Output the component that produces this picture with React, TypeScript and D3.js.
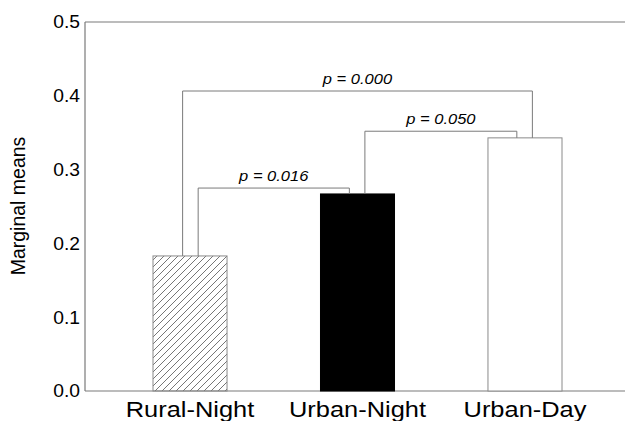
import React from "react";
import * as d3 from "d3";

const categories = ["Rural-Night", "Urban-Night", "Urban-Day"];
const values = [0.183, 0.267, 0.343];
const fills = ["hatch", "black", "white"];
const yTicks = [0.0, 0.1, 0.2, 0.3, 0.4, 0.5];
const comparisons = [
  { from: 0, to: 1, level: 0.275, label: "p = 0.016", fromOff: 0.11, toOff: -0.11 },
  { from: 0, to: 2, level: 0.4065, label: "p = 0.000", fromOff: -0.1, toOff: 0.1 },
  { from: 1, to: 2, level: 0.352, label: "p = 0.050", fromOff: 0.1, toOff: -0.11 },
];

const W = 625;
const H = 421;
const left = 85;
const right = 630;
const top = 22;
const bottom = 391;

export default function App() {
  const x = d3
    .scaleBand<string>()
    .domain(categories)
    .range([left, right])
    .paddingInner(0.558)
    .paddingOuter(0.406);
  const y = d3.scaleLinear().domain([0, 0.5]).range([bottom, top]);
  const bw = x.bandwidth();
  const grey = "#7a7a7a";

  return (
    <svg
      width={W}
      height={H}
      style={{ position: "absolute", left: 0, top: 0, fontFamily: "'Liberation Sans', Arial, sans-serif" }}
    >
      <defs>
        <pattern id="hatch" width="7" height="7" patternUnits="userSpaceOnUse">
          <path d="M-1,8 L8,-1 M-4,4 L4,-4 M3,11 L11,3" stroke="#666" strokeWidth="0.9" />
        </pattern>
      </defs>
      <rect x={0} y={0} width={W} height={H} fill="white" />
      {/* frame */}
      <line x1={left} x2={W} y1={top} y2={top} stroke={grey} strokeWidth={1.2} />
      <line x1={left} x2={W} y1={bottom} y2={bottom} stroke={grey} strokeWidth={1.2} />
      <line x1={left} x2={left} y1={top} y2={bottom} stroke={grey} strokeWidth={1.2} />
      {/* y ticks */}
      {yTicks.map((t) => (
        <text
          key={t}
          transform={`translate(80,${y(t)}) scale(1.1,1)`}
          dy="0.36em"
          textAnchor="end"
          fontSize={17.5}
          fill="#000"
        >
          {d3.format(".1f")(t)}
        </text>
      ))}
      <text
        transform={`translate(25,206) rotate(-90)`}
        textAnchor="middle"
        fontSize={19.5}
        fill="#000"
      >
        Marginal means
      </text>
      {/* bars */}
      {categories.map((c, i) => {
        const f = fills[i];
        return (
          <rect
            key={c}
            x={x(c)}
            y={y(values[i])}
            width={bw}
            height={bottom - y(values[i])}
            fill={f === "hatch" ? "url(#hatch)" : f}
            stroke={f === "black" ? "black" : "#8a8a8a"}
            strokeWidth={1}
          />
        );
      })}
      {/* x labels */}
      {categories.map((c) => (
        <text
          key={c}
          transform={`translate(${(x(c) as number) + bw / 2},416.5) scale(1.13,1)`}
          textAnchor="middle"
          fontSize={22.5}
          fill="#000"
        >
          {c}
        </text>
      ))}
      {/* comparison brackets */}
      {comparisons.map((cmp, k) => {
        const a = categories[cmp.from];
        const b = categories[cmp.to];
        const xa = (x(a) as number) + bw / 2 + cmp.fromOff * bw;
        const xb = (x(b) as number) + bw / 2 + cmp.toOff * bw;
        const ya = y(values[cmp.from]);
        const yb = y(values[cmp.to]);
        const yl = y(cmp.level);
        return (
          <g key={k}>
            <path
              d={`M${xa},${ya} L${xa},${yl} L${xb},${yl} L${xb},${yb}`}
              fill="none"
              stroke={grey}
              strokeWidth={1}
            />
            <text
              transform={`translate(${(xa + xb) / 2},${yl - 7}) scale(1.18,1)`}
              textAnchor="middle"
              fontSize={14}
              fontStyle="italic"
              fill="#000"
            >
              {cmp.label}
            </text>
          </g>
        );
      })}
    </svg>
  );
}
